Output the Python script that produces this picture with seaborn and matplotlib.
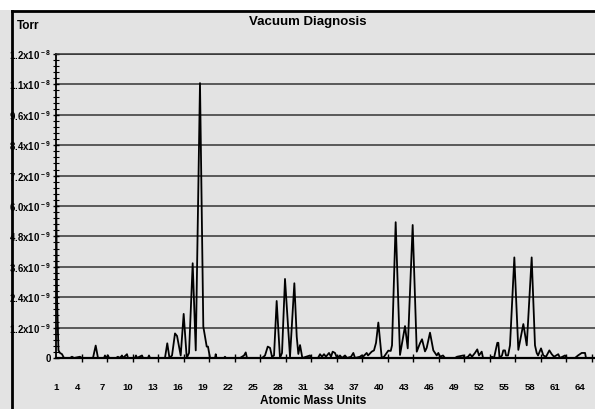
import matplotlib
matplotlib.use("Agg")
import matplotlib.pyplot as plt
import matplotlib.ticker as mticker
from matplotlib.patches import Rectangle
from matplotlib.lines import Line2D
import numpy as np
import pandas as pd
import seaborn as sns

# ---- data ----
amu = [1.00, 1.12, 1.29, 1.47, 1.71, 1.94, 2.65, 2.88, 3.12, 3.82, 4.06, 5.35, 5.67, 5.94,
       6.65, 6.76, 6.88, 7.12, 7.24, 8.06, 8.29, 8.41, 8.65, 8.76, 8.88, 9.35, 9.47, 10.29,
       10.41, 10.53, 11.12, 11.24, 11.82, 11.94, 12.06, 13.82, 14.09, 14.35, 14.65, 15.00,
       15.24, 15.67, 16.02, 16.38, 16.65, 17.08, 17.44, 17.94, 18.33, 18.73, 18.88, 19.12,
       19.71, 19.79, 19.88, 20.76, 20.88, 21.00, 22.65, 23.12, 23.32, 23.47, 25.24, 25.59,
       25.91, 26.18, 26.41, 26.65, 26.96, 27.35, 27.59, 27.94, 28.53, 29.04, 29.32, 29.51,
       29.71, 29.98, 30.88, 31.00, 31.82, 32.06, 32.29, 32.53, 32.76, 33.12, 33.35, 33.55,
       33.82, 34.06, 34.41, 34.65, 35.00, 35.24, 35.71, 35.98, 36.18, 36.76, 36.96, 37.12,
       37.55, 37.71, 38.14, 38.41, 38.65, 38.92, 39.32, 39.59, 40.09, 40.38, 40.53, 40.96,
       41.47, 42.06, 42.38, 42.96, 43.44, 43.82, 44.06, 44.41, 44.61, 45.00, 45.39, 45.79,
       45.98, 46.18, 46.53, 46.76, 47.94, 48.18, 48.92, 49.12, 49.47, 49.71, 49.94, 50.29,
       50.56, 50.76, 51.08, 51.24, 52.06, 52.29, 52.53, 52.92, 53.04, 53.18, 53.47, 53.62,
       53.82, 53.94, 54.18, 54.41, 54.92, 55.39, 55.98, 56.38, 56.96, 57.35, 57.55, 57.71,
       58.06, 58.33, 58.65, 59.04, 59.32, 59.59, 60.09, 60.29, 60.88, 61.12, 62.06, 62.41,
       62.85, 63.24, 63.35, 64.41]

pressure_1e9 = [7.35, 2.40, 0.30, 0.20, 0.15, 0.00, 0.00, 0.05, 0.00, 0.05, 0.00, 0.00, 0.49, 0.00,
                0.00, 0.10, 0.00, 0.10, 0.00, 0.00, 0.05, 0.00, 0.05, 0.10, 0.00, 0.15, 0.00, 0.00,
                0.10, 0.00, 0.10, 0.00, 0.00, 0.10, 0.00, 0.00, 0.58, 0.00, 0.10, 0.97,
                0.87, 0.10, 1.74, 0.00, 0.20, 3.74, 0.30, 10.85, 1.24, 0.45, 0.45, 0.00,
                0.00, 0.15, 0.00, 0.00, 0.05, 0.00, 0.00, 0.10, 0.22, 0.00, 0.00, 0.10,
                0.45, 0.40, 0.05, 0.10, 2.25, 0.00, 0.20, 3.12, 0.05, 2.95, 0.84, 0.16,
                0.51, 0.00, 0.10, 0.00, 0.00, 0.15, 0.05, 0.15, 0.05, 0.20, 0.05, 0.25,
                0.20, 0.00, 0.10, 0.00, 0.10, 0.00, 0.05, 0.20, 0.00, 0.05, 0.10, 0.05,
                0.20, 0.10, 0.25, 0.30, 0.60, 1.40, 0.00, 0.05, 0.29, 0.28, 0.50, 5.36,
                0.12, 1.26, 0.38, 5.25, 0.25, 0.58, 0.74, 0.26, 0.40, 1.00, 0.30, 0.10,
                0.20, 0.05, 0.10, 0.00, 0.00, 0.05, 0.10, 0.00, 0.05, 0.15, 0.05, 0.20,
                0.34, 0.10, 0.25, 0.00, 0.00, 0.05, 0.00, 0.60, 0.60, 0.00, 0.10, 0.30,
                0.30, 0.10, 0.10, 0.50, 3.97, 0.32, 1.34, 0.50, 3.97, 0.50, 0.20, 0.10,
                0.38, 0.10, 0.05, 0.30, 0.15, 0.05, 0.15, 0.00, 0.10, 0.00, 0.00, 0.10,
                0.20, 0.20, 0.00, 0.00]

y_tick_values = [0, 1.2e-9, 2.4e-9, 3.6e-9, 4.8e-9, 6.0e-9, 7.2e-9, 8.4e-9, 9.6e-9, 1.08e-8, 1.2e-8]
x_tick_labels = [1, 4, 7, 10, 13, 16, 19, 22, 25, 28, 31, 34, 37, 40, 43, 46, 49, 52, 55, 58, 61, 64]

title = "Vacuum Diagnosis"
x_title = "Atomic Mass Units"
y_title = "Torr"

# ---- style ----
plt.rcParams['font.family'] = ['Liberation Sans', 'DejaVu Sans']
plt.rcParams['font.weight'] = 'bold'
plt.rcParams['mathtext.fontset'] = 'custom'
plt.rcParams['mathtext.rm'] = 'Liberation Sans:bold'
plt.rcParams['mathtext.bf'] = 'Liberation Sans:bold'
plt.rcParams['mathtext.it'] = 'Liberation Sans:bold'
plt.rcParams['mathtext.default'] = 'rm'

BG = '#e3e3e3'
W, H = 595, 409
fig = plt.figure(figsize=(W / 100, H / 100), dpi=100, facecolor=BG)
ax = fig.add_axes([56 / W, 1 - 358 / H, 1 - 56 / W, (358 - 54) / H])
ax.set_facecolor(BG)

df = pd.DataFrame({'amu': amu, 'torr': np.array(pressure_1e9) * 1e-9})
sns.lineplot(data=df, x='amu', y='torr', ax=ax, color='black', lw=1.3,
             estimator=None, sort=False, zorder=3)

ax.set_xlim(1, 64.41)
ax.set_ylim(0, 1.2e-8)
ax.set_xlabel('')
ax.set_ylabel('')

# y axis
def fmt(v, pos):
    if v <= 0:
        return '0'
    e = int(np.floor(np.log10(v)))
    m = v / 10 ** e
    return r'$%.1f\mathrm{x}10^{\,%d}$' % (m, e)

ax.set_yticks(y_tick_values)
ax.yaxis.set_major_formatter(mticker.FuncFormatter(fmt))
ax.yaxis.set_minor_locator(mticker.AutoMinorLocator(5))
ax.tick_params(axis='y', which='major', direction='inout', length=5, width=1.0,
               labelsize=6.9, pad=1, colors='black')
ax.tick_params(axis='y', which='minor', direction='inout', length=4, width=0.8)
ax.yaxis.grid(True, color='#333333', lw=1.1)
ax.set_axisbelow(True)

# x axis: tick marks every 3 amu, labels drawn with slight drift as in the reference
ax.xaxis.set_minor_locator(mticker.FixedLocator(x_tick_labels))
label_pos = [max(1.0, 1 + (-4 + (L - 1) * 8.38) / 8.5) for L in x_tick_labels]
ax.set_xticks(label_pos)
ax.set_xticklabels([str(L) for L in x_tick_labels])
ax.tick_params(axis='x', which='major', length=0, pad=18, labelsize=6.8)
ax.tick_params(axis='x', which='minor', direction='inout', length=6, width=1.0)

ax.spines['right'].set_visible(False)
ax.spines['top'].set_color('#333333')
ax.spines['top'].set_linewidth(1.1)
ax.spines['left'].set_color('black')
ax.spines['left'].set_linewidth(1.3)
ax.spines['bottom'].set_color('black')
ax.spines['bottom'].set_linewidth(1.6)

# texts
fig.text(307.5 / W, 1 - 21.5 / H, title, ha='center', va='center', fontsize=9.5, weight='bold')
fig.text(17 / W, 1 - 26 / H, y_title, ha='left', va='center', fontsize=8.5, weight='bold')
fig.text(313 / W, 1 - 400.5 / H, x_title, ha='center', va='center', fontsize=8.6, weight='bold')

# outer frame (white strip on top, thick black border)
fig.patches.append(Rectangle((0, 1 - 10 / H), 1, 10 / H, transform=fig.transFigure,
                             facecolor='white', edgecolor='none', zorder=5))
fig.lines.append(Line2D([11.5 / W, 11.5 / W], [0, 1 - 11 / H], transform=fig.transFigure,
                        color='black', lw=2.0, zorder=6, solid_capstyle='projecting'))
fig.lines.append(Line2D([11.5 / W, 1], [1 - 11 / H, 1 - 11 / H], transform=fig.transFigure,
                        color='black', lw=2.0, zorder=6, solid_capstyle='projecting'))

fig.savefig('out.png', dpi=100, facecolor=BG)
